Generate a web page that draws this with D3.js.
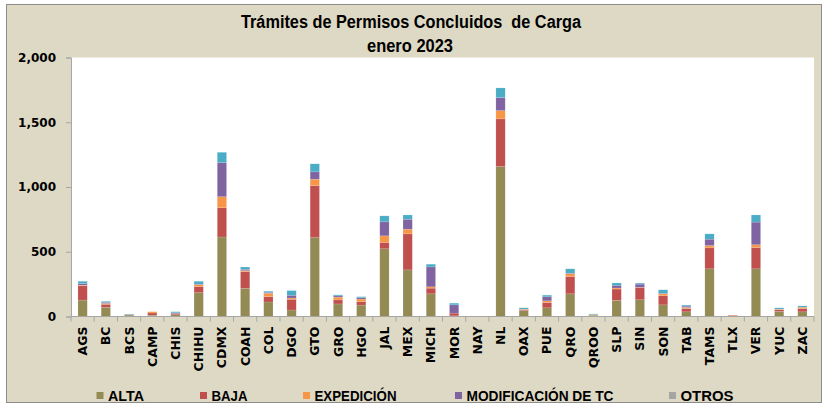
<!DOCTYPE html>
<html>
<head>
<meta charset="utf-8">
<script src="https://cdn.jsdelivr.net/npm/d3@7"></script>
<style>
  html, body { margin: 0; padding: 0; background: #ffffff; }
  svg { display: block; }
</style>
</head>
<body>
<svg id="chart" width="827" height="406"></svg>
<script>
// Trámites de permisos concluidos de carga por entidad, enero 2023
const states = ["AGS","BC","BCS","CAMP","CHIS","CHIHU","CDMX","COAH","COL","DGO","GTO","GRO","HGO","JAL","MEX","MICH","MOR","NAY","NL","OAX","PUE","QRO","QROO","SLP","SIN","SON","TAB","TAMS","TLX","VER","YUC","ZAC"];

const alta         = [127, 71, 11,  9, 14, 184, 614, 218, 112, 50, 609, 97, 88, 523, 360, 175,  5, 0, 1158, 46, 67, 175, 10, 124, 129, 90, 36, 368, 2, 368, 39, 36];
const baja         = [110, 23,  3, 18, 10,  46, 226, 128,  41, 83, 402, 31, 27,  49, 278,  44, 21, 0,  368,  8, 41, 134,  0,  88,  94, 70, 26, 162, 7, 165, 13, 26];
const expedicion   = [  5,  7,  0, 10,  0,  15,  85,   8,  26, 10,  49, 21, 20,  51,  36,  10,  0, 0,   64,  3, 13,  21,  5,   8,   2, 15,  8,  18, 2,  21,  5, 10];
const modificacion = [ 12,  8,  1,  0,  5,   5, 263,  10,   8, 21,  57, 10, 10, 108,  77, 154, 64, 0,  100,  0, 31,   5,  0,  21,  25,  5, 10,  49, 0, 175,  0,  0];
const otros        = [  0,  0,  0,  0,  0,   0,   0,   0,   0,  0,   0,  0,  0,   0,   0,   0,  0, 0,    0,  0,  0,   0,  0,   0,   0,  0,  0,   0, 0,   0,  0,  0];
const reposicion   = [ 18,  8,  4,  0,  8,  22,  80,  18,   8, 36,  62,  8,  8,  46,  33,  21, 13, 0,   75, 10, 13,  33,  5,  18,   8, 26,  8,  41, 0,  55, 10, 10];

const seriesNames  = ["ALTA", "BAJA", "EXPEDICIÓN", "MODIFICACIÓN DE TC", "OTROS", "REPOSICIÓN"];
const seriesValues = [alta, baja, expedicion, modificacion, otros, reposicion];
const seriesColors = ["#948A54", "#C0504D", "#F79646", "#8064A2", "#A5A5A5", "#4BACC6"];
const legendNames  = ["ALTA", "BAJA", "EXPEDICIÓN", "MODIFICACIÓN DE TC", "OTROS"];
const yTicks       = [0, 500, 1000, 1500, 2000];

const rows = states.map((s, i) => {
  const r = { state: s };
  seriesNames.forEach((n, k) => { r[n] = seriesValues[k][i]; });
  return r;
});

const svg = d3.select("#chart");

// chart frame
svg.append("rect")
  .attr("x", 6.5).attr("y", 4.5).attr("width", 815).attr("height", 398)
  .attr("fill", "#DDD9C4").attr("stroke", "#8C8C8C").attr("stroke-width", 1);

const plot = { left: 71, right: 814, top: 57.5, bottom: 316.5 };

// plot area background
svg.append("rect")
  .attr("x", plot.left).attr("y", plot.top)
  .attr("width", plot.right - plot.left).attr("height", plot.bottom - plot.top)
  .attr("fill", "#ffffff");

const x = d3.scaleBand().domain(states).range([plot.left, plot.right])
  .paddingInner(0.6).paddingOuter(0.3);
const y = d3.scaleLinear().domain([0, 2000]).range([plot.bottom, plot.top]);
const color = d3.scaleOrdinal().domain(seriesNames).range(seriesColors);

// stacked bars
const stacked = d3.stack().keys(seriesNames)(rows);
svg.append("g").selectAll("g").data(stacked).join("g")
  .attr("fill", d => color(d.key))
  .selectAll("rect").data(d => d).join("rect")
  .attr("x", d => x(d.data.state))
  .attr("width", x.bandwidth())
  .attr("y", d => y(d[1]))
  .attr("height", d => Math.max(0, y(d[0]) - y(d[1])))
  .attr("stroke", "rgba(255,255,255,0.25)")
  .attr("stroke-width", 0.5);

// y axis
const yAxis = d3.axisLeft(y).tickValues(yTicks).tickSize(5).tickPadding(10)
  .tickFormat(d3.format(","));
const gy = svg.append("g").attr("transform", `translate(${plot.left},0)`).call(yAxis);
gy.select(".domain").attr("stroke", "#A6A6A6");
gy.selectAll(".tick line").attr("stroke", "#A6A6A6");
gy.selectAll(".tick text")
  .attr("fill", "#000").attr("font-family", "'DejaVu Sans', Verdana, sans-serif")
  .attr("font-weight", "bold").attr("font-size", "12px");

// x axis: ticks at category boundaries
const step = x.step();
const x0 = plot.left;
svg.append("line")
  .attr("x1", plot.left).attr("x2", plot.right)
  .attr("y1", plot.bottom).attr("y2", plot.bottom)
  .attr("stroke", "#A6A6A6");
svg.append("g").selectAll("line").data(d3.range(states.length + 1)).join("line")
  .attr("x1", i => x0 + i * step).attr("x2", i => x0 + i * step)
  .attr("y1", plot.bottom).attr("y2", plot.bottom + 5)
  .attr("stroke", "#A6A6A6");

svg.append("g").selectAll("text").data(states).join("text")
  .attr("transform", d => `translate(${x(d) + x.bandwidth() / 2 + 4.5},${plot.bottom + 10}) rotate(-90)`)
  .attr("text-anchor", "end")
  .attr("font-family", "'DejaVu Sans', Verdana, sans-serif")
  .attr("font-weight", "bold").attr("font-size", "12.5px")
  .attr("fill", "#000")
  .text(d => d);

// title
const titleFont = "'Liberation Sans Narrow', 'Liberation Sans', Arial, sans-serif";
svg.append("text")
  .attr("x", 411).attr("y", 28).attr("text-anchor", "middle")
  .attr("font-family", titleFont).attr("font-weight", "bold").attr("font-size", "18px")
  .attr("textLength", 340).attr("lengthAdjust", "spacingAndGlyphs")
  .attr("xml:space", "preserve")
  .text("Trámites de Permisos Concluidos  de Carga");
svg.append("text")
  .attr("x", 410).attr("y", 52).attr("text-anchor", "middle")
  .attr("font-family", titleFont).attr("font-weight", "bold").attr("font-size", "18px")
  .attr("textLength", 86).attr("lengthAdjust", "spacingAndGlyphs")
  .text("enero 2023");

// legend
const legendX = [96.5, 200, 303, 455, 669];
const legendW = [36, 36, 82, 147, 53];
const lg = svg.append("g").selectAll("g").data(legendNames).join("g")
  .attr("transform", (d, i) => `translate(${legendX[i]},392)`);
lg.append("rect")
  .attr("x", 0).attr("y", 0).attr("width", 7).attr("height", 7)
  .attr("fill", d => color(d));
lg.append("text")
  .attr("x", 11.5).attr("y", 9)
  .attr("font-family", titleFont).attr("font-weight", "bold").attr("font-size", "14px")
  .attr("textLength", (d, i) => legendW[i]).attr("lengthAdjust", "spacingAndGlyphs")
  .text(d => d);
</script>
</body>
</html>
